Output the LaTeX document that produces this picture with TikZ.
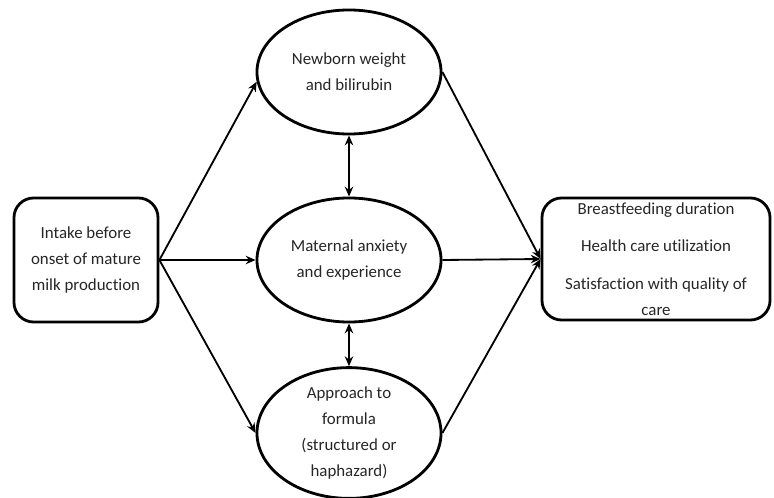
\documentclass[tikz,border=0pt]{standalone}
\usepackage{fontspec}
\setmainfont{Carlito}[Ligatures={NoCommon,NoContextual}]
\usetikzlibrary{shapes.geometric,arrows.meta}

\tikzset{
  factor/.style={ellipse, draw, line width=2pt, minimum width=4.6cm, minimum height=3.1cm, inner sep=0pt, align=center, text=black!85},
  endbox/.style={rectangle, rounded corners=14pt, draw, line width=2pt, inner sep=0pt, align=center, text=black!85},
  link/.style={-{Stealth[length=7pt,width=6pt]}, line width=1.3pt},
  twoway/.style={{Stealth[length=7pt,width=6pt]}-{Stealth[length=7pt,width=6pt]}, line width=1.5pt}
}

\begin{document}
\begin{tikzpicture}[x=0.025cm, y=-0.025cm, font=\fontsize{12}{18.5}\selectfont]
                    \useasboundingbox (0,0) rectangle (774,498);
                    % Nodes
                    \node[endbox, minimum width=3.6cm, minimum height=3.1cm] (intake) at (86,260) {Intake before\\onset of mature\\milk production};
                    \node[factor] (weight) at (349,72) {Newborn weight\\and bilirubin};
                    \node[factor] (anxiety) at (349,260) {Maternal anxiety\\and experience};
                    \node[factor] (formula) at (349,433) {Approach to\\formula\\(structured or\\haphazard)};
                    \node[endbox, minimum width=5.7cm, minimum height=3.05cm] (outcome) at (656,259) {Breastfeeding duration\\[8pt]Health care utilization\\[8pt]Satisfaction with quality of\\care};
                    % Edges
                    \draw[link] (intake.east) -- (weight.186);
                    \draw[link] (intake.east) -- (anxiety.west);
                    \draw[link] (intake.east) -- (formula.west);
                    \draw[link] (weight.east) -- (outcome.west);
                    \draw[link] (anxiety.east) -- (outcome.west);
                    \draw[link] (formula.east) -- (outcome.west);
                    \draw[twoway] (weight.south) -- (anxiety.north);
                    \draw[twoway] (anxiety.south) -- (formula.north);
                \end{tikzpicture}
\end{document}
